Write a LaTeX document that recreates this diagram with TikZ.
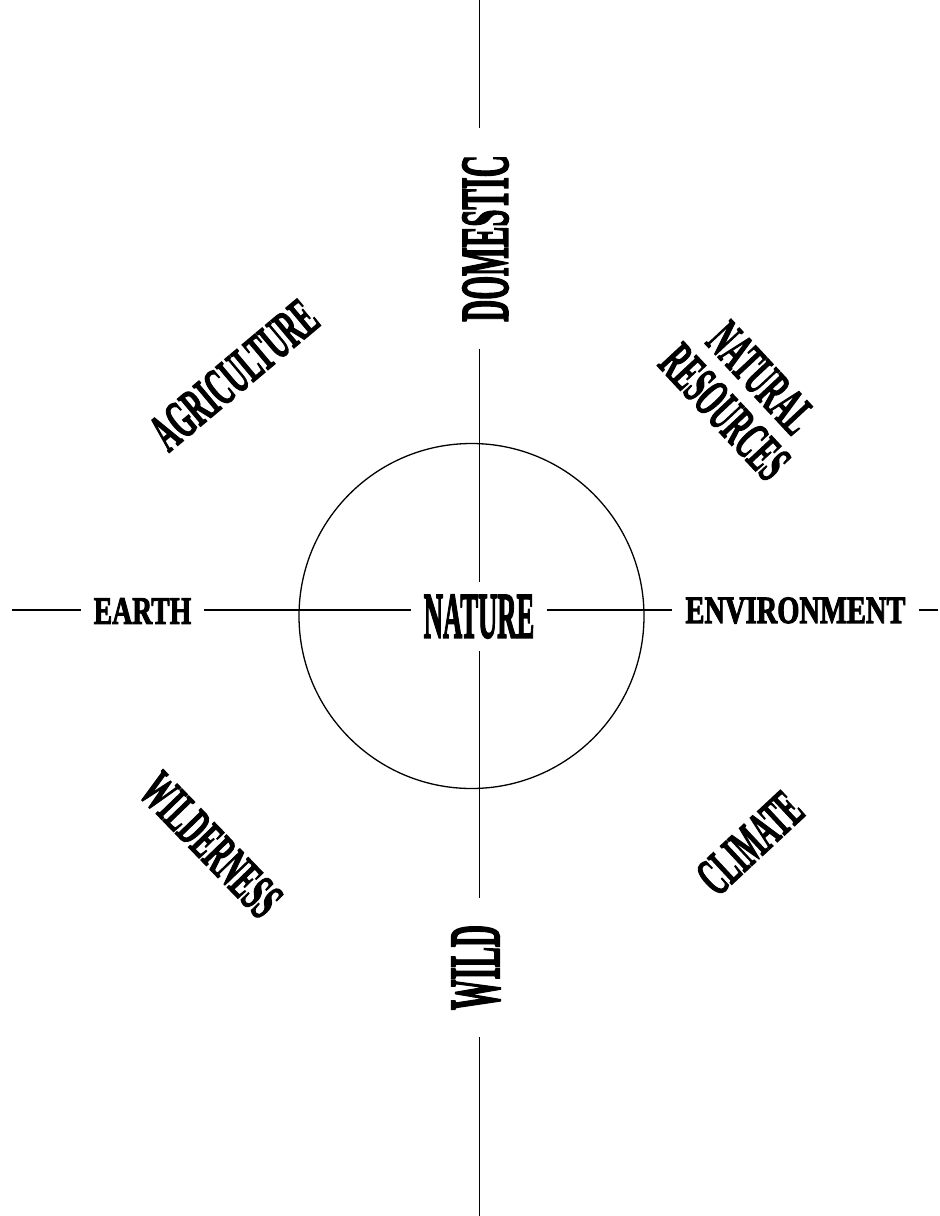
\documentclass[tikz,border=0pt]{standalone}
\usepackage{fontspec}
\setmainfont{Liberation Serif}[BoldFeatures={FakeBold=3}]
\usetikzlibrary{calc}
\newcommand\squeeze[2]{\scalebox{#1}[1]{#2}}
\tikzset{
    chart/diagram/.style={
        x=1pt, y=-1pt,
        line cap=butt,
        every node/.style={inner sep=0pt}
    },
    chart/axis/.style={draw=black, line width=1.3pt},
    chart/ring/.style={draw=black, line width=1.3pt},
    chart/label/.style={font=\bfseries, outer sep=13pt},
    chart/upright/.style={chart/label, rotate=90, outer sep=27pt},
    chart/slanted/.style={font=\fontsize{54}{50}\selectfont\bfseries, align=center, rotate=#1}
}

\begin{document}
\begin{tikzpicture}[chart/diagram]
    \useasboundingbox (0,0) rectangle (940,1216);
    \draw[chart/ring] (471.5,616) circle[radius=172.5pt];
    % axis ends
    \coordinate (axisN) at (479.3,0);
    \coordinate (axisS) at (479.3,1216);
    \coordinate (axisW) at (12,610);
    \coordinate (axisE) at (938,610);
    % labels on the axes
    \node[chart/label, font=\fontsize{65}{65}\selectfont\bfseries] (nature) at (479,616.5) {\squeeze{0.41}{NATURE}};
    \node[chart/label, font=\fontsize{39}{39}\selectfont\bfseries] (earth) at (142.5,611) {\squeeze{0.71}{EARTH}};
    \node[chart/label, font=\fontsize{38.5}{38.5}\selectfont\bfseries] (environment) at (795.5,610.5) {\squeeze{0.74}{ENVIRONMENT}};
    \node[chart/upright, font=\fontsize{68}{68}\selectfont\bfseries] (domestic) at (485.5,238.5) {\squeeze{0.45}{DOMESTIC}};
    \node[chart/upright, font=\fontsize{72}{72}\selectfont\bfseries] (wild) at (476,967.5) {\squeeze{0.425}{WILD}};
    % labels between the axes
    \node[chart/slanted=40] (agriculture) at (234,375) {\squeeze{0.50}{AGRICULTURE}};
    \node[chart/slanted=-47] (resources) at (743,395) {\squeeze{0.49}{NATURAL}\\\squeeze{0.49}{RESOURCES}};
    \node[chart/slanted=-46] (wilderness) at (211,845) {\squeeze{0.49}{WILDERNESS}};
    \node[chart/slanted=43] (climate) at (750,843) {\squeeze{0.48}{CLIMATE}};
    % vertical axis
    \draw[chart/axis] (axisN) -- (axisN |- domestic.east);
    \draw[chart/axis] (axisN |- domestic.west) -- (axisN |- nature.north);
    \draw[chart/axis] (axisN |- nature.south) -- (axisN |- wild.east);
    \draw[chart/axis] (axisN |- wild.west) -- (axisS);
    % horizontal axis
    \draw[chart/axis] (axisW) -- (axisW -| earth.west);
    \draw[chart/axis] (axisW -| earth.east) -- (axisW -| nature.west);
    \draw[chart/axis] (axisW -| nature.east) -- (axisW -| environment.west);
    \draw[chart/axis] (axisW -| environment.east) -- (axisE);
\end{tikzpicture}
\end{document}
